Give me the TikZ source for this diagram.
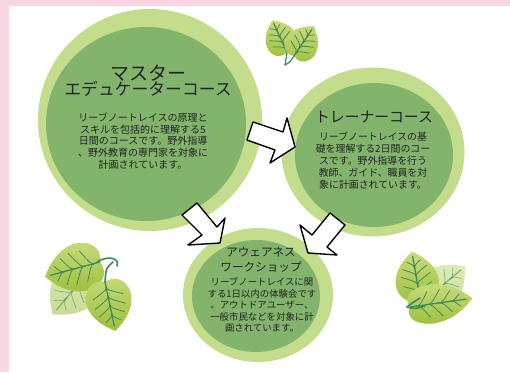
\documentclass[tikz,border=0pt]{standalone}
\usepackage{fontspec}
\setmainfont{Noto Sans CJK JP}
\usetikzlibrary{shapes.geometric}

\definecolor{pageframe}{HTML}{F8D6E2}
\definecolor{ringgreen}{HTML}{C3DD8D}
\definecolor{coregreen}{HTML}{82B46C}
\definecolor{textdark}{HTML}{222222}
\definecolor{leaflight}{HTML}{C8DB7C}
\definecolor{leafdeep}{HTML}{9DBF3E}
\definecolor{veingreen}{HTML}{3B8A5A}

\tikzset{
  ring/.style={ellipse, fill=ringgreen, inner sep=0pt},
  core/.style={ellipse, fill=coregreen, inner sep=0pt},
  titletext/.style={align=center, text=textdark, inner sep=0pt},
  bodytext/.style={align=center, text=textdark, inner sep=0pt},
  flowarrow/.style={draw=black, fill=white, line width=1.4pt, line join=round},
  leafbody/.style={top color=leaflight, bottom color=leafdeep, draw=none},
  vein/.style={draw=veingreen, line width=0.75pt, line cap=round},
  stem/.style={draw=veingreen, line width=1.6pt, line cap=round},
}

% one leaf: base at (#1,#2), turned by #3 degrees, length #4, width factor #5, opacity #6
\newcommand\drawleaf[6]{%
  \begin{scope}[shift={(#1,#2)}, rotate=#3, xscale=#4, yscale=#4*#5, opacity=#6]
    \path[leafbody] (0,0) .. controls (-0.12,0.3) and (0.12,0.52) .. (0.38,0.5)
      .. controls (0.68,0.46) and (0.86,0.22) .. (1,0)
      .. controls (0.86,-0.22) and (0.68,-0.46) .. (0.38,-0.5)
      .. controls (0.12,-0.52) and (-0.12,-0.3) .. (0,0) -- cycle;
    \draw[vein, line width=1.2pt] (0,0) -- (0.9,0);
    \foreach \a/\b/\c in {0.08/0.3/0.33, 0.26/0.5/0.34, 0.44/0.66/0.28, 0.62/0.8/0.16}{
      \draw[vein] (\a,0) .. controls (\a+0.08,0) .. (\b,\c);
      \draw[vein] (\a,0) .. controls (\a+0.08,0) .. (\b,-\c);
    }
  \end{scope}}

\begin{document}
\begin{tikzpicture}[x=1pt, y=-1pt]
  \useasboundingbox (0,0) rectangle (510,372);
  \fill[white] (0,0) rectangle (510,372);
  % page frame
  \fill[pageframe] (0,0) rectangle (510,6);
  \fill[pageframe] (0,0) rectangle (9,372);

  % course circles
  \node[ring, minimum width=224pt, minimum height=222pt] (masterring) at (150,120) {};
  \node[core, minimum width=200pt, minimum height=194pt] (mastercore) at (146,124) {};
  \node[ring, minimum width=183pt, minimum height=169pt] (trainerring) at (373,152) {};
  \node[core, minimum width=158pt, minimum height=144pt] (trainercore) at (374,155) {};
  \node[ring, minimum width=150pt, minimum height=134pt] (awarering) at (258,295) {};
  \node[core, minimum width=128pt, minimum height=112pt] (awarecore) at (256,296) {};

  % master educator course
  \node[titletext] (mastertitle) at (148,81)
    {{\fontsize{19}{21}\selectfont マスター}\\[-1pt]{\fontsize{16.8}{20}\selectfont エデュケーターコース}};
  \node[bodytext, font=\fontsize{10}{11.8}\selectfont] (masterbody) at (143,141)
    {リーブノートレイスの原理と\\スキルを包括的に理解する5\\日間のコースです。野外指導\\、野外教育の専門家を対象に\\計画されています。};

  % trainer course
  \node[titletext, font=\fontsize{14.8}{17}\selectfont] (trainertitle) at (374,117) {トレーナーコース};
  \node[bodytext, font=\fontsize{9.9}{12}\selectfont] (trainerbody) at (373,161)
    {リーブノートレイスの基\\礎を理解する2日間のコー\\スです。野外指導を行う\\教師、ガイド、職員を対\\象に計画されています。};

  % awareness workshop
  \node[titletext, font=\fontsize{11.6}{15}\selectfont] (awaretitle) at (261,259.5) {アウェアネス\\ワークショップ};
  \node[bodytext, font=\fontsize{9.4}{11.5}\selectfont] (awarebody) at (262,305)
    {リーブノートレイスに関\\する1日以内の体験会です\\。アウトドアユーザー、\\一般市民などを対象に計\\画されています。};

  % hand-drawn block arrows between the courses
  \draw[flowarrow] (253,122) -- (283,132) -- (287,118) -- (295,147) -- (270,163) -- (275,150) -- (247,140) -- cycle;
  \draw[flowarrow] (197,203) -- (217,227) -- (225,218) -- (220,243) -- (188,245) -- (202,235) -- (182,215) -- cycle;
  \draw[flowarrow] (330,213) -- (345,225) -- (327,247) -- (337,255) -- (308,253) -- (300,225) -- (312,235) -- cycle;

  % leaves, top
  \draw[stem, line width=1.2pt] (285,65) .. controls (286,60) .. (287,52);
  \draw[stem, line width=1.2pt] (285,65) .. controls (290,62) .. (294,56);
  \drawleaf{287}{52}{115}{35}{0.92}{1}
  \drawleaf{294}{56}{56}{36}{0.92}{1}

  % leaves, left
  \drawleaf{90}{270}{230}{58}{0.85}{0.55}
  \drawleaf{100}{262}{195}{57}{0.85}{1}
  \drawleaf{105}{282}{-78}{50}{0.92}{1}
  \draw[stem] (97,262) .. controls (108,255) and (120,258) .. (117,266);
  \draw[stem] (113,262) .. controls (106,268) .. (105,282);

  % leaves, right
  \drawleaf{425}{300}{40}{52}{0.8}{0.55}
  \drawleaf{420}{298}{100}{47}{0.92}{1}
  \drawleaf{410}{307}{8}{63}{0.62}{1}
  \draw[stem] (407,307) .. controls (412,303) .. (420,298);
  \draw[stem] (407,307) .. controls (415,309) .. (425,306);
\end{tikzpicture}
\end{document}
